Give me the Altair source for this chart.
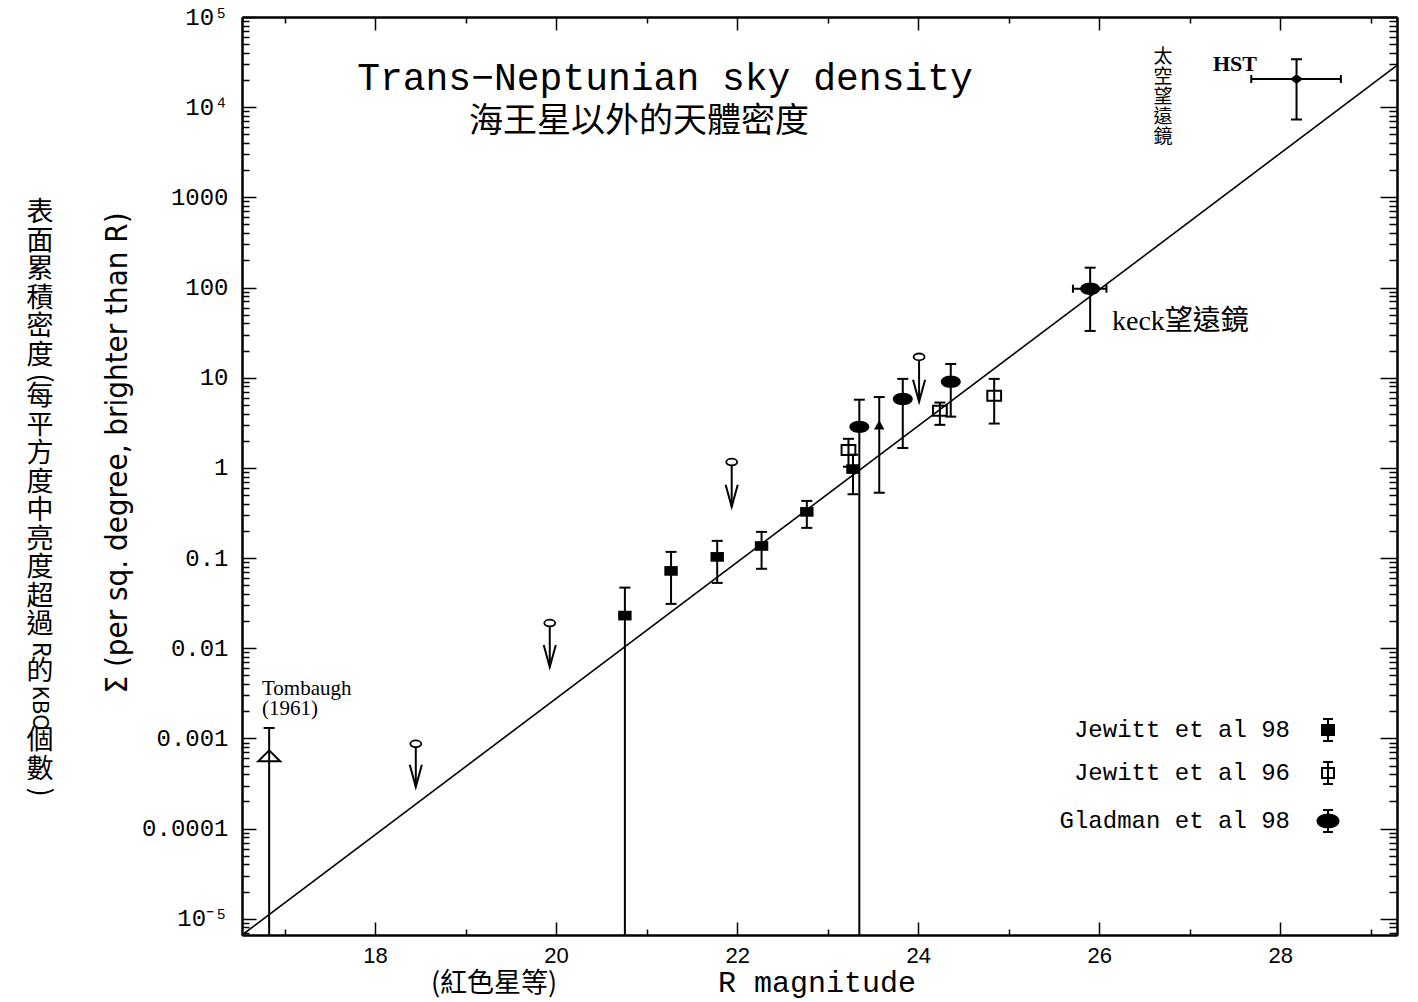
import altair as alt
import pandas as pd

# ---------------- data ----------------
# fitted power law (end points of the straight line)
fit_mag = [16.53, 29.29]
fit_val = [6.6e-6, 2.9e4]

# Jewitt et al 98 (filled squares)
j98_mag = [20.76, 21.27, 21.78, 22.27, 22.77, 23.28]
j98_val = [0.023, 0.072, 0.103, 0.136, 0.325, 0.97]
j98_hi = [0.047, 0.117, 0.155, 0.195, 0.43, 1.40]
j98_lo = [1e-7, 0.031, 0.053, 0.076, 0.216, 0.51]

# Jewitt et al 96 (open squares)
j96_mag = [23.23, 24.24, 24.84]
j96_val = [1.58, 4.3, 6.3]
j96_hi = [2.1, 5.3, 9.7]
j96_lo = [1.03, 3.0, 3.1]

# Gladman et al 98 (filled ellipses); the last one is the Keck point
gl_mag = [23.35, 23.83, 24.36, 25.90]
gl_val = [2.85, 5.8, 9.0, 97.0]
gl_hi = [5.7, 9.7, 14.2, 166.0]
gl_lo = [1e-7, 1.66, 3.7, 33.0]

# horizontal error bars (Keck, HST)
hx_mag_lo = [25.71, 27.68]
hx_mag_hi = [26.08, 28.67]
hx_val = [97.0, 2.05e4]

# HST point
hst_mag = [28.18]
hst_val = [2.05e4]
hst_hi = [3.4e4]
hst_lo = [7.3e3]

# filled triangle
tri_mag = [23.57]
tri_val = [3.0]
tri_hi = [6.1]
tri_lo = [0.53]

# Tombaugh (1961)
tom_mag = [16.83]
tom_val = [6.4e-4]
tom_hi = [1.3e-3]
tom_lo = [1e-7]

# upper limits (open circle + arrow)
ul_mag = [18.45, 19.93, 21.94, 24.01]
ul_val = [8.7e-4, 0.019, 1.16, 17.0]
ul_tip = [2.9e-4, 0.0062, 0.37, 5.4]

# axes
x_major = [18, 20, 22, 24, 26, 28]
x_minor = [17, 19, 21, 23, 25, 27, 29]
y_major = [1e-5, 1e-4, 1e-3, 1e-2, 1e-1, 1, 10, 100, 1000, 1e4, 1e5]
y_major_labels = ["10⁻⁵", "0.0001", "0.001", "0.01", "0.1", "1", "10", "100",
                  "1000", "10⁴", "10⁵"]
legend_labels = ["Jewitt et al 98", "Jewitt et al 96", "Gladman et al 98"]

# ---------------- styling ----------------
Y_MIN, Y_MAX = 6.6e-6, 1e5
X_MIN, X_MAX = 16.53, 29.29
W, H = 1155, 918
MONO = "Liberation Mono"
SERIF = "Liberation Serif"
SANS = "Liberation Sans"
CJK = "Noto Sans CJK TC"
COND = "DejaVu Sans Condensed, Liberation Sans Narrow, DejaVu Sans"

y_minor = [m * 10.0 ** k for k in range(-6, 5) for m in range(2, 10)
           if Y_MIN <= m * 10.0 ** k <= Y_MAX]

xs = alt.Scale(domain=[X_MIN, X_MAX], nice=False, zero=False)
ys = alt.Scale(type="log", domain=[Y_MIN, Y_MAX], nice=False, clamp=True)


def X(f):
    return alt.X(f"{f}:Q", scale=xs, axis=None)


def Y(f):
    return alt.Y(f"{f}:Q", scale=ys, axis=None)


def df(**cols):
    return pd.DataFrame(cols)


fit_df = df(mag=fit_mag, val=fit_val)
j98_df = df(mag=j98_mag, val=j98_val, hi=j98_hi, lo=j98_lo)
j96_df = df(mag=j96_mag, val=j96_val, hi=j96_hi, lo=j96_lo)
gl_df = df(mag=gl_mag, val=gl_val, hi=gl_hi, lo=gl_lo)
hst_df = df(mag=hst_mag, val=hst_val, hi=hst_hi, lo=hst_lo)
tri_df = df(mag=tri_mag, val=tri_val, hi=tri_hi, lo=tri_lo)
tom_df = df(mag=tom_mag, val=tom_val, hi=tom_hi, lo=tom_lo)
ul_df = df(mag=ul_mag, val=ul_val, tip=ul_tip)
hx_df = df(lo=hx_mag_lo, hi=hx_mag_hi, val=hx_val)

vbar_df = pd.concat([j98_df, j96_df, gl_df, hst_df, tri_df, tom_df], ignore_index=True)
caps_hi = vbar_df[["mag", "hi"]].rename(columns={"hi": "y"})
caps_lo = vbar_df.loc[vbar_df["lo"] >= Y_MIN, ["mag", "lo"]].rename(columns={"lo": "y"})
cap_df = pd.concat([caps_hi, caps_lo], ignore_index=True)
hcap_df = pd.concat([hx_df[["lo", "val"]].rename(columns={"lo": "m"}),
                     hx_df[["hi", "val"]].rename(columns={"hi": "m"})], ignore_index=True)

ELLIPSE = "M-1,0A1,0.62 0 1,1 1,0A1,0.62 0 1,1 -1,0Z"
RECT = "M-1,-0.72H1V0.72H-1Z"
DIAMOND = "M-1,0L0,-0.75L1,0L0,0.75Z"
TRI_FLAT = "M-1,0.5L0,-0.5L1,0.5Z"
VHEAD = "M-0.55,-2L0,0L0.55,-2"
LEG_BAR = " M0,-0.73V0.73 M-0.33,-0.73H0.33 M-0.33,0.73H0.33"
LEG_SQ = "M-0.4,-0.33H0.4V0.33H-0.4Z" + LEG_BAR
LEG_EL = "M-0.7,0A0.7,0.43 0 1,1 0.7,0A0.7,0.43 0 1,1 -0.7,0Z" + LEG_BAR

layers = []

# ---- axes (major/minor, all four sides, ticks pointing inward) ----
common = dict(grid=False, title=None, domainColor="black", domainWidth=2,
              tickColor="black", tickWidth=1.5)


def axis_layer(xaxis, yaxis):
    return alt.Chart(fit_df).mark_point(opacity=0).encode(
        x=alt.X("mag:Q", scale=xs, axis=xaxis),
        y=alt.Y("val:Q", scale=ys, axis=yaxis))


label_expr = "[" + ",".join(f"'{s}'" for s in y_major_labels) + "][round(log(datum.value)/LN10)+5]"

layers.append(axis_layer(
    alt.Axis(orient="bottom", values=x_major, tickSize=alt.ExprRef(expr="-13"),
             labels=True, labelFont=SANS, labelFontSize=22, labelColor="black",
             labelPadding=23, labelFlush=False, **common),
    alt.Axis(orient="left", values=y_major, tickSize=alt.ExprRef(expr="-14"),
             labels=True, labelExpr=label_expr, labelFont=MONO, labelFontSize=24,
             labelColor="black", labelPadding=28, labelOverlap=False, **common)))
layers.append(axis_layer(
    alt.Axis(orient="bottom", values=x_minor, tickSize=alt.ExprRef(expr="-6"),
             labels=False, **common),
    alt.Axis(orient="left", values=y_minor, tickSize=alt.ExprRef(expr="-7"),
             labels=False, **common)))
layers.append(axis_layer(
    alt.Axis(orient="top", values=x_major, tickSize=alt.ExprRef(expr="-13"),
             labels=False, **common),
    alt.Axis(orient="right", values=y_major, tickSize=alt.ExprRef(expr="-17"),
             labels=False, **common)))
layers.append(axis_layer(
    alt.Axis(orient="top", values=x_minor, tickSize=alt.ExprRef(expr="-6"),
             labels=False, **common),
    alt.Axis(orient="right", values=y_minor, tickSize=alt.ExprRef(expr="-8"),
             labels=False, **common)))

# ---- fitted line ----
layers.append(alt.Chart(fit_df).mark_line(color="black", strokeWidth=1.6).encode(
    x=X("mag"), y=Y("val")))

# ---- error bars ----
layers.append(alt.Chart(vbar_df).mark_rule(color="black", strokeWidth=2).encode(
    x=X("mag"), y=Y("lo"), y2="hi"))
layers.append(alt.Chart(cap_df).mark_tick(orient="horizontal", color="black", size=11,
                                          thickness=2, opacity=1).encode(
    x=X("mag"), y=Y("y")))
layers.append(alt.Chart(hx_df).mark_rule(color="black", strokeWidth=2).encode(
    x=X("lo"), x2="hi", y=Y("val")))
layers.append(alt.Chart(hcap_df).mark_tick(orient="vertical", color="black", size=8,
                                           thickness=2, opacity=1).encode(
    x=X("m"), y=Y("val")))

# ---- upper limits ----
layers.append(alt.Chart(ul_df).mark_rule(color="black", strokeWidth=2).encode(
    x=X("mag"), y=Y("val"), y2="tip"))
layers.append(alt.Chart(ul_df).mark_point(shape=VHEAD, size=484, filled=False,
                                          stroke="black", strokeWidth=2, opacity=1).encode(
    x=X("mag"), y=Y("tip")))
layers.append(alt.Chart(ul_df).mark_point(shape=ELLIPSE, size=120, filled=True, fill="white",
                                          stroke="black", strokeWidth=1.8, opacity=1).encode(
    x=X("mag"), y=Y("val")))

# ---- symbols ----
layers.append(alt.Chart(j98_df).mark_point(shape=RECT, size=180, filled=True, fill="black",
                                           opacity=1).encode(x=X("mag"), y=Y("val")))
layers.append(alt.Chart(j96_df).mark_point(shape=RECT, size=190, filled=False, stroke="black",
                                           strokeWidth=2, opacity=1).encode(x=X("mag"), y=Y("val")))
layers.append(alt.Chart(gl_df).mark_point(shape=ELLIPSE, size=400, filled=True, fill="black",
                                          opacity=1).encode(x=X("mag"), y=Y("val")))
layers.append(alt.Chart(hst_df).mark_point(shape=DIAMOND, size=170, filled=True, fill="black",
                                           opacity=1).encode(x=X("mag"), y=Y("val")))
layers.append(alt.Chart(tri_df).mark_point(shape="triangle-up", size=110, filled=True,
                                           fill="black", opacity=1).encode(x=X("mag"), y=Y("val")))
layers.append(alt.Chart(tom_df).mark_point(shape=TRI_FLAT, size=484, filled=False, stroke="black",
                                           strokeWidth=2, opacity=1).encode(x=X("mag"), y=Y("val")))

# ---- annotations ----
one = alt.Data(values=[{}])


def note(text, x, y, size, font, align="center", baseline="middle", angle=0,
         weight="normal", line_height=None):
    kw = dict(text=text, font=font, fontSize=size, align=align, baseline=baseline,
              angle=angle, fontWeight=weight, color="black")
    if line_height:
        kw.update(lineBreak="\n", lineHeight=line_height)
    return alt.Chart(one).mark_text(**kw).encode(x=alt.value(x), y=alt.value(y))


layers.append(note("Trans−Neptunian sky density", 423, 62, 38, MONO))
layers.append(note("海王星以外的天體密度", 397, 105, 34, CJK))
layers.append(note("HST", 993, 47, 22, SERIF, weight="bold"))
layers.append(note("\n".join("太空望遠鏡"), 921, 31, 19, CJK, baseline="top", line_height=20))
layers.append(note("keck望遠鏡", 870, 305, 28, f"{SERIF}, {CJK}", align="left"))
layers.append(note("Tombaugh\n(1961)", 20, 661, 21, SERIF, align="left", baseline="top",
                   line_height=20))

# legend
leg_y = [713, 756, 804]
leg_shapes = [LEG_SQ, LEG_SQ, LEG_EL]
leg_fill = [True, False, True]
for lab, yy, shp, fl in zip(legend_labels, leg_y, leg_shapes, leg_fill):
    layers.append(note(lab, 1048, yy, 24, MONO, align="right"))
    layers.append(alt.Chart(one).mark_point(
        shape=shp, size=900, filled=fl, fill="black" if fl else "transparent",
        stroke="black", strokeWidth=2, opacity=1).encode(x=alt.value(1086), y=alt.value(yy)))

# axis titles
layers.append(note("R magnitude", 575, 966, 30, MONO))
layers.append(note("(紅色星等)", 252, 967, 27, CJK))
layers.append(note("Σ (per sq. degree, brighter than R)", -124, 436, 31, COND, angle=270))

# vertical Chinese title (upright CJK, sideways Latin and brackets)
CX = -202
layers.append(note("\n".join("表面累積密度"), CX, 183, 27, CJK, baseline="top", line_height=28.5))
layers.append(note("(", CX, 361, 27, CJK, angle=90))
layers.append(note("\n".join("每平方度中亮度超過"), CX, 367, 27, CJK, baseline="top", line_height=28.5))
layers.append(note("R", CX, 632, 24, CJK, angle=90))
layers.append(note("的", CX, 642, 27, CJK, baseline="top"))
layers.append(note("KBO", CX, 691, 22, CJK, angle=90))
layers.append(note("\n".join("個數"), CX, 711, 27, CJK, baseline="top", line_height=28.5))
layers.append(note(")", CX, 775, 27, CJK, angle=90))

chart = alt.layer(*layers).resolve_axis(x="independent", y="independent").properties(
    width=W, height=H,
    padding={"left": 242, "top": 17, "right": 21, "bottom": 67},
    autosize=alt.AutoSizeParams(type="none"),
    background="white",
).configure_view(stroke=None)

chart.save("out.html", embed_options={"renderer": "svg", "actions": False})
